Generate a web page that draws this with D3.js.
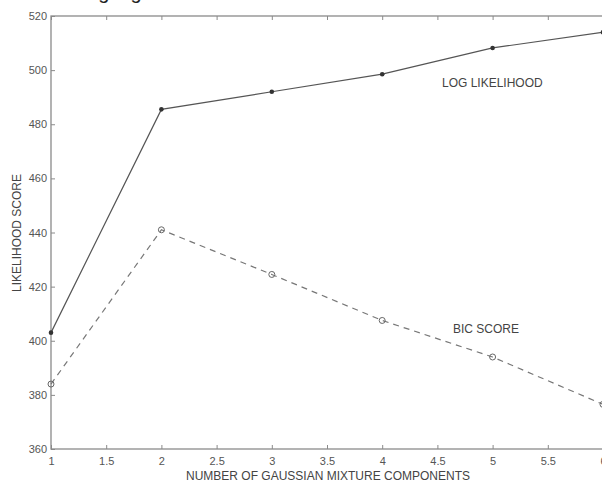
<!DOCTYPE html>
<html><head><meta charset="utf-8">
<script src="https://cdn.jsdelivr.net/npm/d3@7"></script>
<style>body{margin:0;background:#fff}svg{display:block}</style>
</head><body>
<svg id="c" width="602" height="482"></svg>
<script>
const components = [1, 2, 3, 4, 5, 6];
const logLikelihood = [403, 485.5, 492, 498.5, 508.2, 514];
const bicScore = [384, 441, 424.5, 407.5, 394, 376.5];
const xTicks = [1, 1.5, 2, 2.5, 3, 3.5, 4, 4.5, 5, 5.5, 6];
const yTicks = [360, 380, 400, 420, 440, 460, 480, 500, 520];

const svg = d3.select("#c");
const m = {l: 51, r: 603, t: 16, b: 449};
const x = d3.scaleLinear().domain([1, 6]).range([m.l, m.r]);
const y = d3.scaleLinear().domain([360, 520]).range([m.b, m.t]);
const axisCol = "#8a8a8a", lineCol = "#555", textCol = "#555";
const font = "Liberation Sans, Arial, sans-serif";

// heading text of the page above, almost entirely cut off at the top edge
svg.append("text").attr("x", 26).attr("y", -1).attr("font-family", font)
  .attr("font-size", 20).attr("fill", "#222").text("recording algorithm");

// box
svg.append("rect").attr("x", m.l).attr("y", m.t).attr("width", m.r - m.l).attr("height", m.b - m.t)
  .attr("fill", "none").attr("stroke", axisCol).attr("stroke-width", 1.3);

const bx = svg.append("g").attr("transform", `translate(0,${m.b})`)
  .call(d3.axisBottom(x).tickValues(xTicks).tickSize(-4).tickPadding(8).tickFormat(d3.format("")));
const tx = svg.append("g").attr("transform", `translate(0,${m.t})`)
  .call(d3.axisTop(x).tickValues(xTicks).tickSize(-4).tickFormat(""));
const ly = svg.append("g").attr("transform", `translate(${m.l},0)`)
  .call(d3.axisLeft(y).tickValues(yTicks).tickSize(-4).tickPadding(4));
[bx, tx, ly].forEach(g => {
  g.select(".domain").remove();
  g.selectAll(".tick line").attr("stroke", axisCol).attr("stroke-width", 1);
  g.selectAll("text").attr("font-family", font).attr("font-size", 11).attr("fill", textCol);
});

const line = d3.line().x((d, i) => x(components[i])).y(d => y(d));
svg.append("path").datum(logLikelihood).attr("d", line).attr("fill", "none")
  .attr("stroke", lineCol).attr("stroke-width", 1.2);
svg.append("path").datum(bicScore).attr("d", line).attr("fill", "none")
  .attr("stroke", "#777").attr("stroke-width", 1.2).attr("stroke-dasharray", "6,5");

svg.selectAll(".ll").data(logLikelihood).join("circle")
  .attr("cx", (d, i) => x(components[i])).attr("cy", d => y(d)).attr("r", 2.3)
  .attr("fill", "#333");
svg.selectAll(".bic").data(bicScore).join("circle")
  .attr("cx", (d, i) => x(components[i])).attr("cy", d => y(d)).attr("r", 3)
  .attr("fill", "none").attr("stroke", "#666").attr("stroke-width", 1);

svg.append("text").attr("x", 442).attr("y", 86.5).attr("font-family", font).attr("font-size", 12)
  .attr("fill", "#444").text("LOG LIKELIHOOD");
svg.append("text").attr("x", 453).attr("y", 332.5).attr("font-family", font).attr("font-size", 12)
  .attr("fill", "#444").text("BIC SCORE");

svg.append("text").attr("x", 328).attr("y", 479.5).attr("text-anchor", "middle")
  .attr("font-family", font).attr("font-size", 12).attr("fill", "#444")
  .text("NUMBER OF GAUSSIAN MIXTURE COMPONENTS");
svg.append("text").attr("transform", "translate(21,233) rotate(-90)").attr("text-anchor", "middle")
  .attr("font-family", font).attr("font-size", 12).attr("fill", "#444")
  .text("LIKELIHOOD SCORE");
</script>
</body></html>
